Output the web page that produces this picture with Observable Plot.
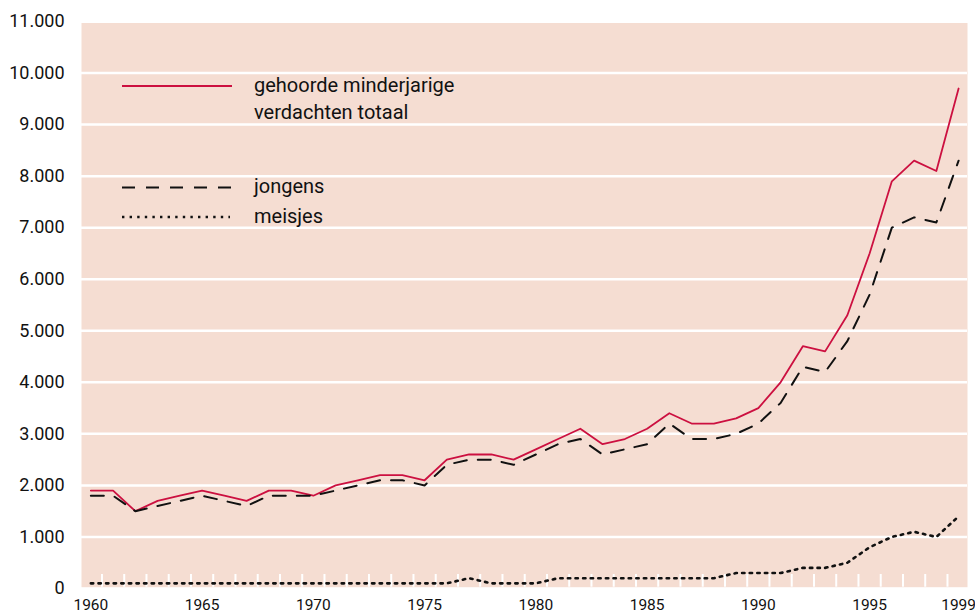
<!DOCTYPE html>
<html>
<head>
<meta charset="utf-8">
<script src="https://cdn.jsdelivr.net/npm/d3@7"></script>
<script src="https://cdn.jsdelivr.net/npm/@observablehq/plot@0.6"></script>
<style>
  body { margin: 0; background: #fff; }
  #wrap { position: relative; width: 975px; height: 615px; font-family: Roboto, "Noto Sans", sans-serif; }
  #wrap svg.overlay { position: absolute; left: 0; top: 0; pointer-events: none; }
</style>
</head>
<body>
<div id="wrap"></div>
<script>
// ---- data ----
const years = [1960,1961,1962,1963,1964,1965,1966,1967,1968,1969,
               1970,1971,1972,1973,1974,1975,1976,1977,1978,1979,
               1980,1981,1982,1983,1984,1985,1986,1987,1988,1989,
               1990,1991,1992,1993,1994,1995,1996,1997,1998,1999];
const totaal  = [1900,1900,1500,1700,1800,1900,1800,1700,1900,1900,
                 1800,2000,2100,2200,2200,2100,2500,2600,2600,2500,
                 2700,2900,3100,2800,2900,3100,3400,3200,3200,3300,
                 3500,4000,4700,4600,5300,6500,7900,8300,8100,9700];
const jongens = [1800,1800,1500,1600,1700,1800,1700,1600,1800,1800,
                 1800,1900,2000,2100,2100,2000,2400,2500,2500,2400,
                 2600,2800,2900,2600,2700,2800,3200,2900,2900,3000,
                 3200,3600,4300,4200,4800,5700,7000,7200,7100,8300];
const meisjes = [100,100,100,100,100,100,100,100,100,100,
                 100,100,100,100,100,100,100,200,100,100,
                 100,200,200,200,200,200,200,200,200,300,
                 300,300,400,400,500,800,1000,1100,1000,1400];
const xTickLabels = [1960,1965,1970,1975,1980,1985,1990,1995,1999];
const yTickValues = [0,1000,2000,3000,4000,5000,6000,7000,8000,9000,10000,11000];
const gridValues  = [1000,2000,3000,4000,5000,6000,7000,8000,9000,10000];
const legendLabels = [["gehoorde minderjarige","verdachten totaal"],["jongens"],["meisjes"]];

// ---- build ----
const rows = years.map((year, i) => ({year, totaal: totaal[i], jongens: jongens[i], meisjes: meisjes[i]}));
const yearBoundaries = years.slice(0, -1).map(y => y + 0.5);
const nl = d3.formatLocale({decimal: ",", thousands: ".", grouping: [3], currency: ["€", ""]});
const fmt = nl.format(",d");

const RED = "#cc1040";
const BG = "#f5ddd2";
const INK = "#111111";
const DASH = "13,11";
const DOT = "2.4,5.2";

const chart = Plot.plot({
  width: 975, height: 615,
  marginLeft: 81, marginRight: 8, marginTop: 21, marginBottom: 27,
  style: {background: "transparent", fontFamily: "Roboto, 'Noto Sans', sans-serif", color: INK, overflow: "visible"},
  x: {domain: [1959.58, 1999.4], label: null},
  y: {domain: [0, 11000], label: null},
  marks: [
    Plot.frame({fill: BG, stroke: null, insetTop: 1.5, insetBottom: 1.3}),
    Plot.ruleY(gridValues, {stroke: "#fff", strokeWidth: 2.5}),
    Plot.ruleX(yearBoundaries, {x: d => d, y1: 25, y2: 272, stroke: "#fff", strokeWidth: 2}),
    Plot.line(rows, {x: "year", y: "meisjes", stroke: INK, strokeWidth: 2.6, strokeDasharray: DOT}),
    Plot.line(rows, {x: "year", y: "totaal", stroke: RED, strokeWidth: 1.8}),
    Plot.line(rows, {x: "year", y: "jongens", stroke: INK, strokeWidth: 2, strokeDasharray: DASH}),
    Plot.axisY(yTickValues, {tickSize: 0, tickPadding: 17, tickFormat: fmt, fontSize: 18, label: null}),
    Plot.axisX(xTickLabels, {tickSize: 0, tickPadding: 10, tickFormat: d => String(d), fontSize: 15.5, label: null})
  ]
});
const wrap = document.getElementById("wrap");
wrap.appendChild(chart);

// ---- legend overlay (inside the plot area, as in the reference) ----
const svg = d3.select(wrap).append("svg")
  .attr("class", "overlay").attr("width", 975).attr("height", 615)
  .style("font-family", "Roboto, 'Noto Sans', sans-serif");
const legendItems = [
  {stroke: RED, width: 1.8, dash: null, y: 86, x2: 232, lines: legendLabels[0]},
  {stroke: INK, width: 2, dash: DASH, y: 187.5, x2: 232, lines: legendLabels[1]},
  {stroke: INK, width: 2.6, dash: DOT, y: 217, x2: 230, lines: legendLabels[2]}
];
for (const it of legendItems) {
  svg.append("line").attr("x1", 122).attr("x2", it.x2).attr("y1", it.y).attr("y2", it.y)
    .attr("stroke", it.stroke).attr("stroke-width", it.width)
    .attr("stroke-dasharray", it.dash);
  it.lines.forEach((t, j) => {
    svg.append("text").attr("x", 254).attr("y", it.y + 5.5 + j * 27.5)
      .attr("font-size", 20).attr("fill", INK).text(t);
  });
}
</script>
</body>
</html>
